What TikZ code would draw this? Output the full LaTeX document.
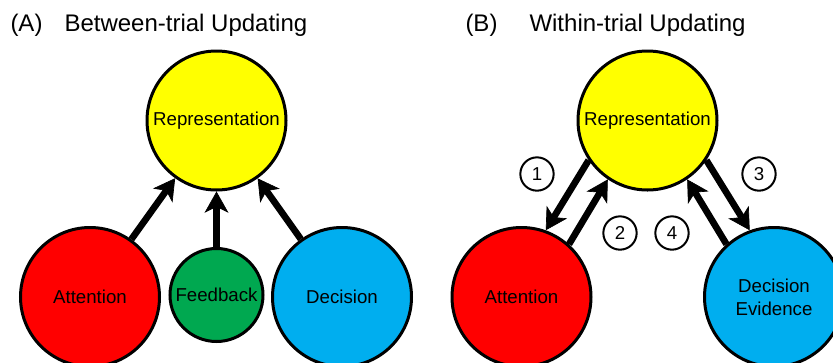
\documentclass[tikz,border=0pt]{standalone}
\usepackage{fontspec}
\setmainfont{Liberation Sans}
\usetikzlibrary{arrows.meta}

\definecolor{repyellow}{RGB}{255,255,0}
\definecolor{attred}{RGB}{255,0,0}
\definecolor{fbgreen}{RGB}{0,168,80}
\definecolor{decblue}{RGB}{0,174,239}

\tikzset{every picture/.style={line width=0.75pt}}
\tikzset{
  bubble/.style={circle, draw, line width=2.25pt, minimum size=104.25pt, inner sep=0pt,
    align=center, font=\fontsize{14}{17}\selectfont},
  numring/.style={circle, draw, line width=1.5pt, minimum size=25pt, inner sep=0pt,
    font=\fontsize{14}{17}\selectfont},
  thickarr/.style={line width=5pt, -{Stealth[length=16pt,width=18pt,inset=4.5pt,line width=0.5pt]}},
  paneltitle/.style={anchor=base west, inner sep=0pt, font=\fontsize{18}{22}\selectfont}
}

\begin{document}
\begin{tikzpicture}[x=0.75pt,y=0.75pt,yscale=-1,xscale=1]
\useasboundingbox (0,0) rectangle (833,362);

% Panel A
\node [paneltitle] (labA) at (10,31) {(A)};
\node [paneltitle] (titA) at (64,31) {Between-trial Updating};

%Circles
\node [bubble, fill=repyellow] (repA) at (216.5,120.5) {Representation};
\node [bubble, fill=attred] (attA) at (90,297) {Attention};
\node [bubble, fill=fbgreen, minimum size=69.75pt] (fbA) at (216.5,295) {Feedback};
\node [bubble, fill=decblue] (decA) at (342,297) {Decision};

%Arrows
\draw [thickarr] (attA) -- (repA);
\draw [thickarr] (fbA) -- (repA);
\draw [thickarr] (decA) -- (repA);

% Panel B
\node [paneltitle] (labB) at (465,31) {(B)};
\node [paneltitle] (titB) at (529,31) {Within-trial Updating};

%Circles
\node [bubble, fill=repyellow] (repB) at (647.5,120.5) {Representation};
\node [bubble, fill=attred] (attB) at (521.5,297) {Attention};
\node [bubble, fill=decblue] (decB) at (774,297) {Decision\\Evidence};

%Arrows
\draw [thickarr] (repB.214) -- (attB.70);
\draw [thickarr] (attB.48) -- (repB.236);
\draw [thickarr] (repB.326) -- (decB.110);
\draw [thickarr] (decB.132) -- (repB.304);

% Step numbers
\node [numring] (n1) at (537,174) {1};
\node [numring] (n2) at (620,233) {2};
\node [numring] (n3) at (759,174) {3};
\node [numring] (n4) at (672,233) {4};

\end{tikzpicture}
\end{document}
